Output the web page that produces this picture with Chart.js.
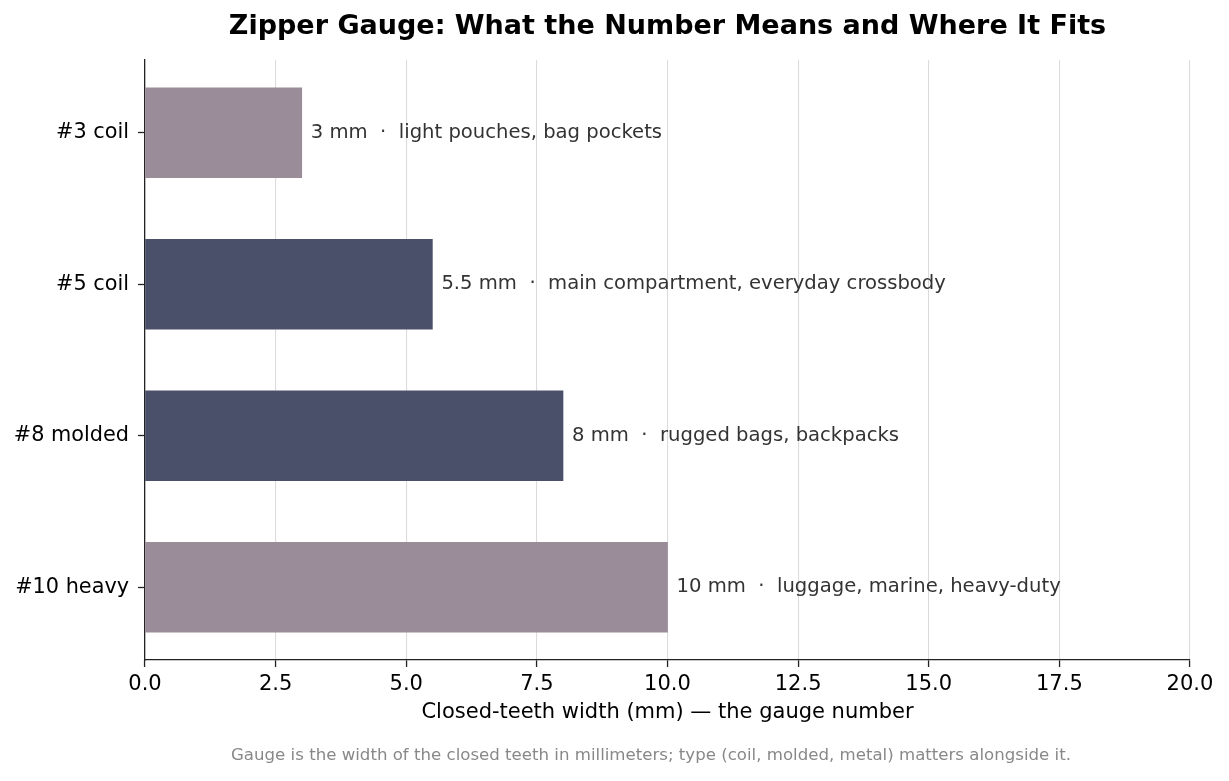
<!DOCTYPE html>
<html>
<head>
<meta charset="utf-8">
<script src="https://cdn.jsdelivr.net/npm/chart.js@4"></script>
<style>
  html, body { margin: 0; padding: 0; background: #fff; }
  #wrap { width: 1229px; height: 781px; }
</style>
</head>
<body>
<div id="wrap"><canvas id="gaugeChart"></canvas></div>
<script>
const categories = ['#3 coil', '#5 coil', '#8 molded', '#10 heavy'];
const widthsMm = [3, 5.5, 8, 10];
const uses = ['light pouches, bag pockets', 'main compartment, everyday crossbody', 'rugged bags, backpacks', 'luggage, marine, heavy-duty'];
const barColors = ['#9b8c99', '#4a4f6a', '#4a4f6a', '#9b8c99'];
const xTicks = [0, 2.5, 5, 7.5, 10, 12.5, 15, 17.5, 20];

const FONT = '"DejaVu Sans", sans-serif';

// labels, title, axis title and footnote drawn by hand
const textPlugin = {
  id: 'textPlugin',
  afterDatasetsDraw(chart) {
    const ctx = chart.ctx;
    const meta = chart.getDatasetMeta(0);
    ctx.save();
    ctx.font = '19.6px ' + FONT;
    ctx.fillStyle = '#333';
    ctx.textBaseline = 'middle';
    ctx.textAlign = 'left';
    meta.data.forEach((bar, i) => {
      const txt = widthsMm[i] + ' mm  \u00b7  ' + uses[i];
      ctx.fillText(txt, bar.x + 9, bar.y);
    });
    ctx.restore();
  },
  afterDraw(chart) {
    const ctx = chart.ctx;
    const area = chart.chartArea;
    const cx = (area.left + area.right) / 2;
    ctx.save();
    ctx.textAlign = 'center';
    ctx.textBaseline = 'middle';
    ctx.fillStyle = '#000';
    ctx.font = 'bold 27px ' + FONT;
    ctx.fillText('Zipper Gauge: What the Number Means and Where It Fits', cx, 27);
    ctx.font = '21px ' + FONT;
    ctx.fillText('Closed-teeth width (mm) \u2014 the gauge number', cx, 713);

    // footnote is squeezed sideways in the original
    const note = 'Gauge is the width of the closed teeth in millimeters; type (coil, molded, metal) matters alongside it.';
    ctx.fillStyle = '#888';
    ctx.font = '16.5px ' + FONT;
    const w = ctx.measureText(note).width;
    const sx = 840 / w;
    ctx.translate(651, 756);
    ctx.scale(sx, 1);
    ctx.fillText(note, 0, 0);
    ctx.restore();
  }
};

new Chart(document.getElementById('gaugeChart'), {
  type: 'bar',
  data: {
    datasets: [{
      data: widthsMm.map((v, i) => ({ x: v, y: i })),
      backgroundColor: barColors,
      borderWidth: 0,
      barThickness: 90
    }]
  },
  options: {
    indexAxis: 'y',
    responsive: true,
    maintainAspectRatio: false,
    animation: false,
    layout: { padding: { top: 60, right: 39, left: 0, bottom: 0 } },
    plugins: {
      legend: { display: false },
      tooltip: { enabled: false }
    },
    scales: {
      x: {
        type: 'linear',
        min: 0,
        max: 20,
        afterFit(scale) { scale.height = 121; },
        afterBuildTicks(scale) { scale.ticks = xTicks.map(v => ({ value: v })); },
        ticks: {
          color: '#000',
          font: { family: FONT, size: 21 },
          padding: 5,
          maxRotation: 0,
          callback: v => Number(v).toFixed(1)
        },
        grid: { color: '#dcdcdc', lineWidth: 1.1, tickColor: '#222', tickWidth: 1.3, tickLength: 7 },
        border: { color: '#222', width: 1.3 }
      },
      y: {
        type: 'linear',
        reverse: true,
        offset: false,
        min: -0.48,
        max: 3.48,
        afterFit(scale) { scale.width = 145; },
        afterBuildTicks(scale) { scale.ticks = categories.map((c, i) => ({ value: i })); },
        ticks: {
          color: '#000',
          font: { family: FONT, size: 20.8 },
          padding: 9,
          callback: v => categories[v]
        },
        grid: { offset: false, drawOnChartArea: false, tickColor: '#222', tickWidth: 1.3, tickLength: 7 },
        border: { color: '#222', width: 1.3 }
      }
    }
  },
  plugins: [textPlugin]
});
</script>
</body>
</html>
